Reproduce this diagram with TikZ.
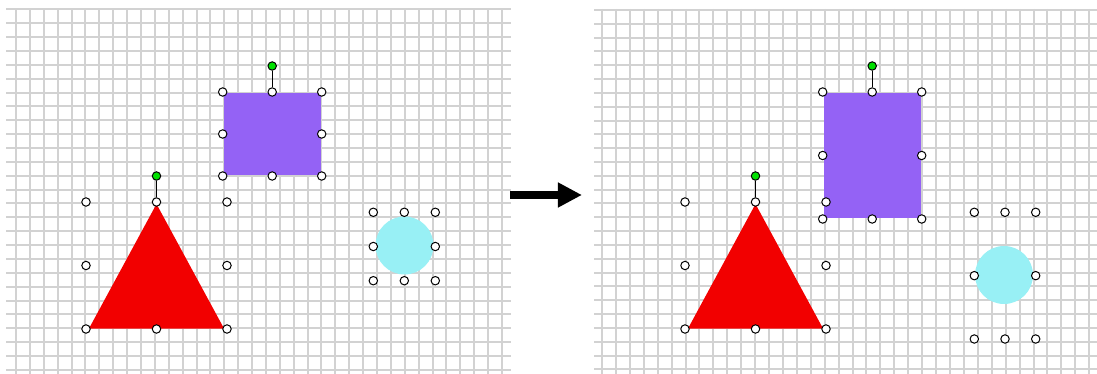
\documentclass[tikz,border=0pt]{standalone}
\usepackage{tikz}
\usetikzlibrary{arrows.meta}
\definecolor{gridgray}{RGB}{210,210,210}
\definecolor{shapered}{RGB}{242,0,0}
\definecolor{shapepurple}{RGB}{148,98,245}
\definecolor{shapecyan}{RGB}{152,240,245}
\definecolor{rotgreen}{RGB}{0,225,0}

% eight selection handles round a box: name, x1, y1, x2, y2
\newcommand{\selbox}[5]{%
  \node[handle] (#1nw) at (#2,#3) {};
  \node[handle] (#1n) at ({(#2+#4)/2},#3) {};
  \node[handle] (#1ne) at (#4,#3) {};
  \node[handle] (#1w) at (#2,{(#3+#5)/2}) {};
  \node[handle] (#1e) at (#4,{(#3+#5)/2}) {};
  \node[handle] (#1sw) at (#2,#5) {};
  \node[handle] (#1s) at ({(#2+#4)/2},#5) {};
  \node[handle] (#1se) at (#4,#5) {};}
\newcommand{\rotknob}[1]{%
  \node[rothandle] (#1rot) at ([yshift=26*0.03cm]#1n) {};
  \draw[rotline] (#1rot) -- (#1n);}

\begin{document}
\begin{tikzpicture}[x=0.03cm,y=-0.03cm,
    gridline/.style={draw=gridgray,line width=1.71pt},
    handle/.style={circle,draw,fill=white,line width=0.85pt,inner sep=0pt,
                   minimum size=7.2pt},
    rothandle/.style={handle,fill=rotgreen},
    rotline/.style={line width=1.1pt}]
    \useasboundingbox (0,0) rectangle (1097,374);
    % grids
    \foreach \i in {0,...,35} {
        \draw[gridline] ({round(16+\i*13.886)},9) -- ({round(16+\i*13.886)},374);
        \draw[gridline] ({round(602+\i*13.92)},9) -- ({round(602+\i*13.92)},374);}
    \foreach \j in {0,...,26} {
        \draw[gridline] (6,{round(9.3+\j*13.87)}) -- (511,{round(9.3+\j*13.87)});
        \draw[gridline] (594,{round(10+\j*13.82)}) -- (1097,{round(10+\j*13.82)});}

    % before
    \fill[shapered] (89,328.5) -- (156.5,204) -- (224,328.5) -- cycle;
    \fill[shapepurple] (224,93) rectangle (321,175.5);
    \fill[shapecyan] (404.5,245.5) circle[radius=29];
    \selbox{tri}{86}{202}{227}{329}
    \rotknob{tri}
    \selbox{rect}{222.7}{92}{321.7}{176}
    \rotknob{rect}
    \selbox{circ}{373.3}{212.3}{435.3}{280.7}

    \coordinate (go) at (510,195);
    \coordinate (arrive) at (582,195);
    \draw[line width=7.4pt,-{Triangle[length=20.5pt,width=20pt]}] (go) -- (arrive);

    % after
    \fill[shapered] (688,328.5) -- (755.5,204) -- (823,328.5) -- cycle;
    \fill[shapepurple] (824,93) rectangle (921,218);
    \fill[shapecyan] (1004,275) circle[radius=29];
    \selbox{tritwo}{685}{202}{826}{329}
    \rotknob{tritwo}
    \selbox{recttwo}{822.7}{92}{921.7}{219}
    \rotknob{recttwo}
    \selbox{circtwo}{974.3}{212.3}{1035.7}{339}
\end{tikzpicture}
\end{document}
